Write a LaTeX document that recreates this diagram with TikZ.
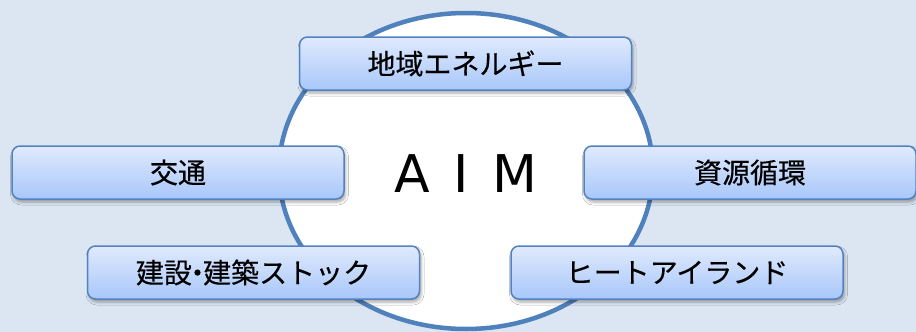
\documentclass[tikz,border=0pt]{standalone}
\usepackage{fontspec}
\newfontfamily\jp[FakeBold=0.4]{Noto Sans CJK JP}
\newfontfamily\aimfont{DejaVu Sans}
\usetikzlibrary{shadows.blur}
\definecolor{bg}{HTML}{DCE6F2}
\definecolor{ring}{HTML}{4F81BD}
\definecolor{boxline}{HTML}{5382C0}
\definecolor{boxtop}{HTML}{E0EAFD}
\definecolor{boxbot}{HTML}{A8C7FA}
\tikzset{
  topic/.style={draw=boxline, line width=1.5pt, rounded corners=8pt,
    top color=boxtop, bottom color=boxbot,
    minimum width=332pt, minimum height=53pt, inner sep=0pt,
    font=\jp\fontsize{28}{31}\selectfont, text=black,
    blur shadow={shadow xshift=1.5pt, shadow yshift=-3pt, shadow blur radius=3pt, shadow opacity=35}},
}
\begin{document}
\begin{tikzpicture}[x=1pt,y=-1pt]
\useasboundingbox (0,0) rectangle (916,332);
\clip (0,0) rectangle (916,332);
\fill[bg] (0,0) rectangle (916,332);
\draw[ring, line width=4.5pt, fill=white] (466,171) ellipse [x radius=187, y radius=158];
\node[font=\aimfont\fontsize{52}{56}\selectfont] (aim) at (466,174) {A\hspace{0.45em}I\hspace{0.45em}M};
\node[topic] (energy) at (465.5,63.5) {地域エネルギー};
\node[topic] (traffic) at (178,172.5) {交通};
\node[topic] (resource) at (750,172.5) {資源循環};
\node[topic] (building) at (253.5,272.5) {建設\kern-0.3em・\kern-0.3em建築ストック};
\node[topic] (heat) at (677,272.5) {ヒートアイランド};
\end{tikzpicture}
\end{document}
